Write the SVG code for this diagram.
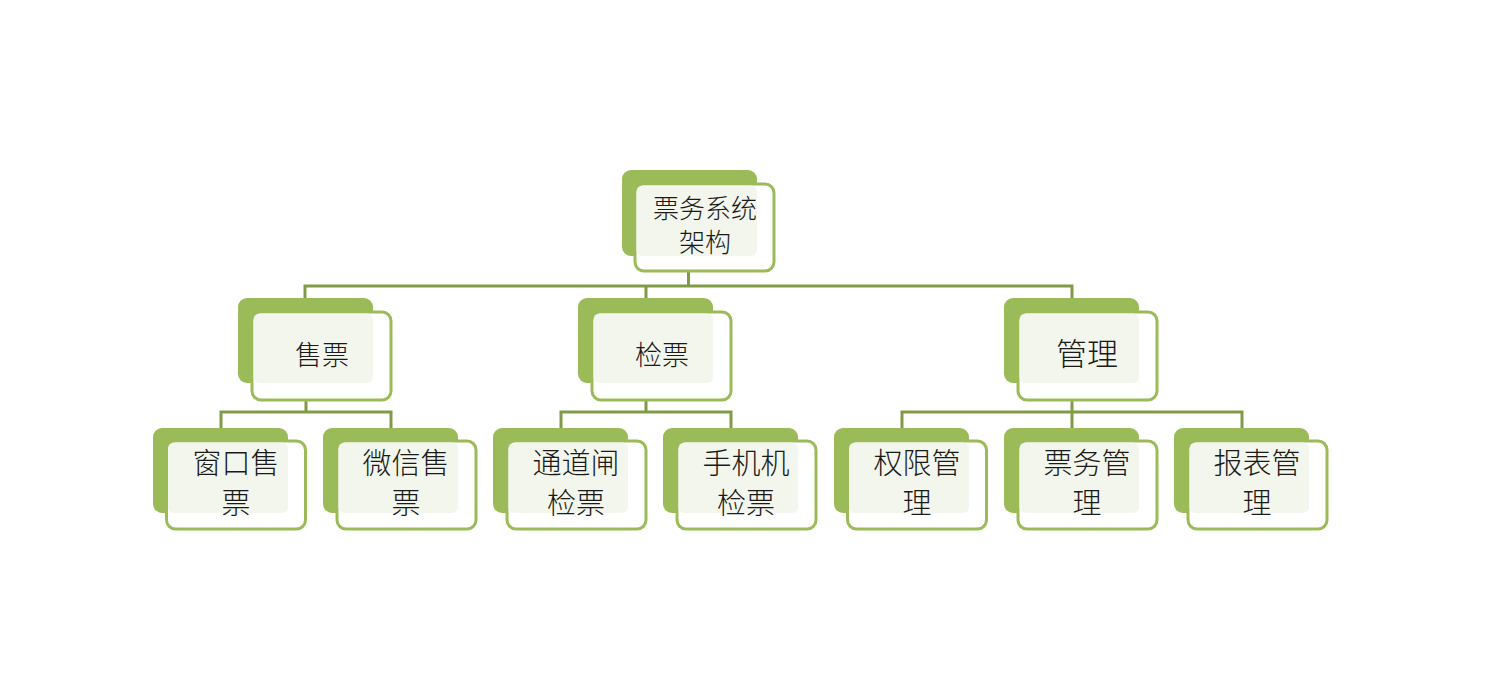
<svg xmlns="http://www.w3.org/2000/svg" width="1510" height="700" viewBox="0 0 1510 700">
<style>
.back{fill:#9BBB59}
.front{fill:#FFFFFF;stroke:#9BBB59;stroke-width:3}
.tint{fill:#F3F6EC}
.conn{fill:none;stroke:#7F9B46;stroke-width:3}
.faint{fill:none;stroke:#7F9B46;stroke-width:3;opacity:0.12}
text{font-family:"Noto Sans CJK SC","Noto Sans CJK JP",sans-serif;fill:#1a1a1a;text-anchor:middle;font-weight:300}
.t1{font-size:26px}
.t2{font-size:27px}
.t3{font-size:29px}
.t4{font-size:31px}
</style>
<rect width="1510" height="700" fill="#FFFFFF"/>
<g id="connectors">
<path class="conn" d="M688.5 271 V286 M305 298 V286 H1072 V298 M646 286 V298"/>
<path class="faint" d="M688.5 256 V271 M306 383 V400 M646 383 V400 M1072 383 V400"/>
<path class="conn" d="M306 400 V412 M221 428 V412 H391 V428"/>
<path class="conn" d="M646 400 V412 M561 428 V412 H731 V428"/>
<path class="conn" d="M1072 400 V412 M902 428 V412 H1242 V428 M1072 412 V428"/>
</g>
<g id="root">
<rect class="back" x="622" y="170" width="135" height="86" rx="9"/>
<rect class="front" x="635" y="184" width="139" height="87" rx="9"/>
<rect class="tint" x="636.5" y="185.5" width="120.5" height="70.5" rx="6"/>
<text class="t1" x="705" y="218">票务系统<tspan x="705" dy="34">架构</tspan></text>
</g>
<g id="n-sale">
<rect class="back" x="238" y="298" width="135" height="85" rx="9"/>
<rect class="front" x="252" y="312" width="139" height="88" rx="9"/>
<rect class="tint" x="253.5" y="313.5" width="119.5" height="69.5" rx="6"/>
<text class="t2" x="322" y="365">售票</text>
</g>
<g id="n-check">
<rect class="back" x="578" y="298" width="135" height="85" rx="9"/>
<rect class="front" x="592" y="312" width="139" height="88" rx="9"/>
<rect class="tint" x="593.5" y="313.5" width="119.5" height="69.5" rx="6"/>
<text class="t2" x="662" y="365">检票</text>
</g>
<g id="n-manage">
<rect class="back" x="1004" y="298" width="135" height="85" rx="9"/>
<rect class="front" x="1018" y="312" width="139" height="88" rx="9"/>
<rect class="tint" x="1019.5" y="313.5" width="119.5" height="69.5" rx="6"/>
<text class="t4" x="1087" y="365">管理</text>
</g>
<g id="n-window">
<rect class="back" x="153" y="428" width="135" height="85" rx="9"/>
<rect class="front" x="166.5" y="441" width="139" height="88" rx="9"/>
<rect class="tint" x="168" y="442.5" width="120" height="70.5" rx="6"/>
<text class="t3" x="236" y="474">窗口售<tspan x="236" dy="40">票</tspan></text>
</g>
<g id="n-wechat">
<rect class="back" x="323" y="428" width="135" height="85" rx="9"/>
<rect class="front" x="337" y="441" width="139" height="88" rx="9"/>
<rect class="tint" x="338.5" y="442.5" width="119.5" height="70.5" rx="6"/>
<text class="t3" x="406" y="474">微信售<tspan x="406" dy="40">票</tspan></text>
</g>
<g id="n-gate">
<rect class="back" x="493" y="428" width="135" height="85" rx="9"/>
<rect class="front" x="507" y="441" width="139" height="88" rx="9"/>
<rect class="tint" x="508.5" y="442.5" width="119.5" height="70.5" rx="6"/>
<text class="t3" x="576" y="474">通道闸<tspan x="576" dy="40">检票</tspan></text>
</g>
<g id="n-mobile">
<rect class="back" x="663" y="428" width="135" height="85" rx="9"/>
<rect class="front" x="677" y="441" width="139" height="88" rx="9"/>
<rect class="tint" x="678.5" y="442.5" width="119.5" height="70.5" rx="6"/>
<text class="t3" x="746" y="474">手机机<tspan x="746" dy="40">检票</tspan></text>
</g>
<g id="n-perm">
<rect class="back" x="834" y="428" width="135" height="85" rx="9"/>
<rect class="front" x="847.5" y="441" width="139" height="88" rx="9"/>
<rect class="tint" x="849" y="442.5" width="120" height="70.5" rx="6"/>
<text class="t3" x="917" y="474">权限管<tspan x="917" dy="40">理</tspan></text>
</g>
<g id="n-ticket">
<rect class="back" x="1004" y="428" width="135" height="85" rx="9"/>
<rect class="front" x="1018" y="441" width="139" height="88" rx="9"/>
<rect class="tint" x="1019.5" y="442.5" width="119.5" height="70.5" rx="6"/>
<text class="t3" x="1087" y="474">票务管<tspan x="1087" dy="40">理</tspan></text>
</g>
<g id="n-report">
<rect class="back" x="1174" y="428" width="135" height="85" rx="9"/>
<rect class="front" x="1188" y="441" width="139" height="88" rx="9"/>
<rect class="tint" x="1189.5" y="442.5" width="119.5" height="70.5" rx="6"/>
<text class="t3" x="1257" y="474">报表管<tspan x="1257" dy="40">理</tspan></text>
</g>
</svg>
